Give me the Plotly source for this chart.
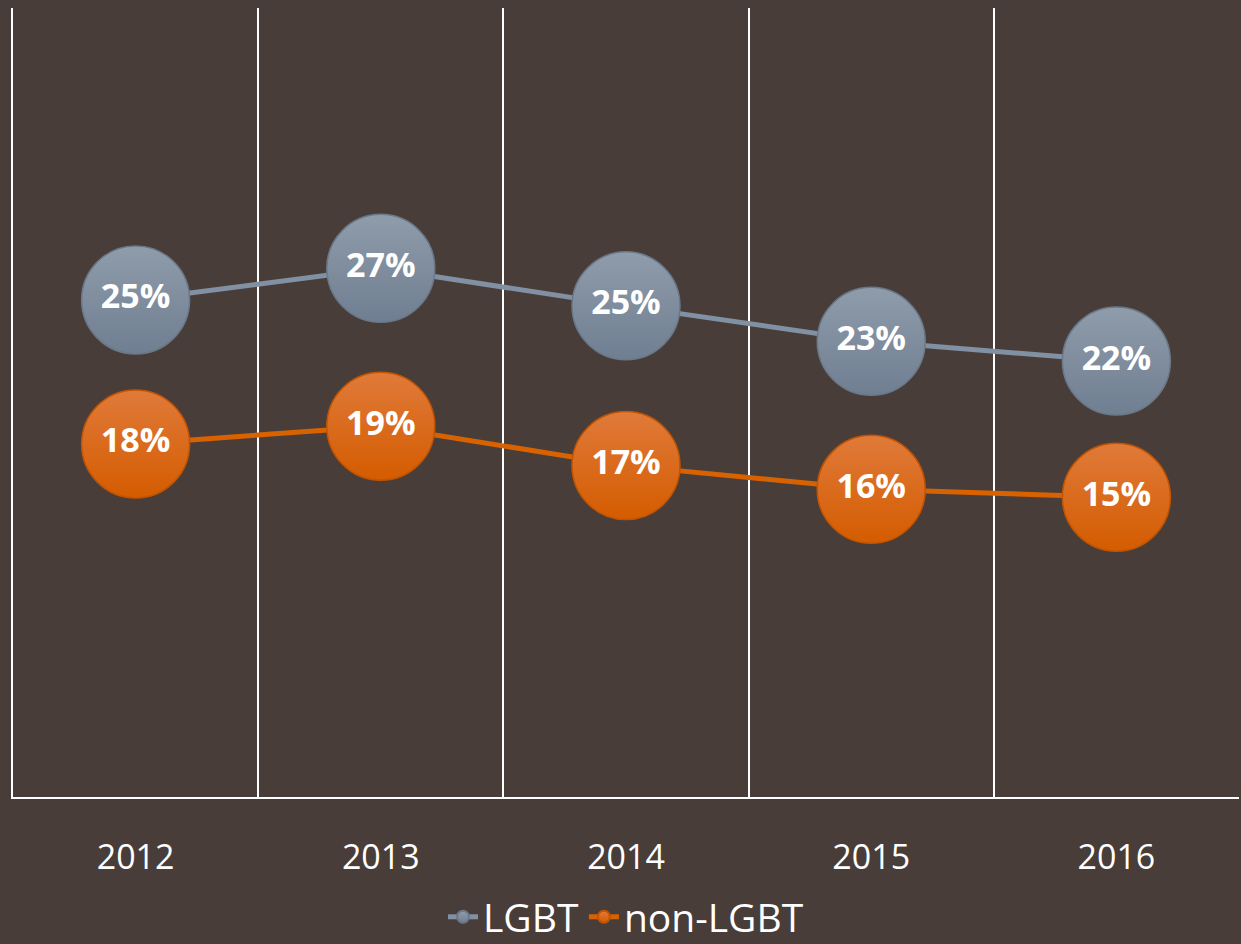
import plotly.graph_objects as go

years = ["2012", "2013", "2014", "2015", "2016"]
lgbt = [25.2, 26.8, 24.9, 23.1, 22.1]
non_lgbt = [17.9, 18.8, 16.8, 15.6, 15.2]
lgbt_labels = ["25%", "27%", "25%", "23%", "22%"]
non_lgbt_labels = ["18%", "19%", "17%", "16%", "15%"]

BG = "#483D39"


def add_series(fig, y, labels, name, line_color, top, bottom, edge):
    fig.add_trace(go.Scatter(
        x=years, y=y, name=name, mode="lines+markers+text",
        text=labels, textposition="middle center",
        textfont=dict(family="Open Sans", size=34, color="white", weight="bold"),
        line=dict(color=line_color, width=5),
        marker=dict(size=108, color=top,
                    gradient=dict(type="vertical", color=bottom),
                    line=dict(color=edge, width=1.5)),
        cliponaxis=False,
    ))


fig = go.Figure()
add_series(fig, lgbt, lgbt_labels, "LGBT", "#8190A3", "#8F9CAB", "#6F7E91", "#6A7888")
add_series(fig, non_lgbt, non_lgbt_labels, "non-LGBT", "#D96200", "#E07A3A", "#D45C00", "#C25400")

fig.update_layout(
    width=1241, height=944,
    paper_bgcolor=BG, plot_bgcolor=BG,
    margin=dict(l=13, r=2, t=8, b=147, autoexpand=False),
    showlegend=True,
    legend=dict(orientation="h", x=0.5, xanchor="center", y=-0.152, yanchor="middle",
                font=dict(family="Open Sans", size=39, color="white"),
                itemsizing="constant", bgcolor="rgba(0,0,0,0)"),
    xaxis=dict(type="category", tickson="boundaries", showgrid=True,
               gridcolor="white", gridwidth=1.5, showline=True, linecolor="white",
               linewidth=2, ticks="", ticklabelstandoff=29,
               tickfont=dict(family="Open Sans", size=34, color="white"),
               range=[-0.5, 4.5], zeroline=False),
    yaxis=dict(range=[0, 40], showgrid=False, showticklabels=False, zeroline=False,
               showline=True, linecolor="white", linewidth=2, ticks=""),
)

fig.write_html(
    "out.html",
    config={"displayModeBar": False},
    post_script="document.body.style.margin='0';document.body.style.overflow='hidden';"
                "document.body.style.background='" + BG + "';",
)
